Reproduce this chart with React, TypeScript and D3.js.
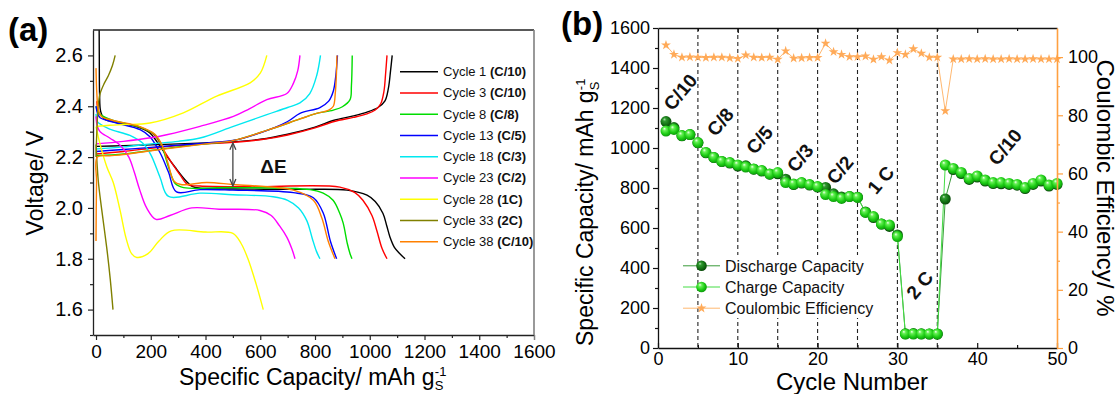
import React, { useEffect, useRef } from "react";
import * as d3 from "d3";

type Pt = [number, number];

// (a) voltage profiles, [specific capacity mAh/g, voltage V]
const cycle1Discharge: Pt[] = [[11, 2.8], [12, 2.6], [13, 2.45], [17, 2.38], [30, 2.35], [88, 2.335], [161, 2.315], [197, 2.295], [223, 2.26], [255, 2.21], [289, 2.16], [330, 2.105], [351, 2.085], [380, 2.078], [563, 2.074], [745, 2.073], [917, 2.07], [990, 2.05], [1020, 2.025], [1048, 1.979], [1062, 1.93], [1074, 1.885], [1090, 1.845], [1110, 1.82], [1129, 1.8]];
const cycle1Charge: Pt[] = [[0, 2.242], [100, 2.245], [200, 2.248], [300, 2.252], [400, 2.256], [500, 2.26], [600, 2.27], [700, 2.29], [800, 2.318], [870, 2.345], [940, 2.362], [990, 2.377], [1030, 2.395], [1055, 2.42], [1068, 2.47], [1076, 2.54], [1082, 2.6]];
const cycle3Discharge: Pt[] = [[3, 2.42], [8, 2.38], [15, 2.367], [51, 2.345], [161, 2.318], [215, 2.285], [245, 2.23], [275, 2.18], [307, 2.13], [335, 2.092], [380, 2.086], [563, 2.083], [891, 2.082], [946, 2.06], [975, 2.03], [1008, 1.97], [1026, 1.91], [1045, 1.84], [1063, 1.8]];
const cycle3Charge: Pt[] = [[0, 2.212], [100, 2.222], [200, 2.235], [300, 2.245], [400, 2.252], [500, 2.258], [600, 2.268], [700, 2.287], [800, 2.315], [870, 2.34], [940, 2.356], [990, 2.37], [1020, 2.385], [1040, 2.41], [1052, 2.46], [1058, 2.53], [1063, 2.6]];
const cycle8Discharge: Pt[] = [[0, 2.4], [6, 2.38], [15, 2.368], [60, 2.345], [160, 2.318], [215, 2.288], [240, 2.245], [265, 2.16], [290, 2.095], [320, 2.08], [500, 2.08], [782, 2.072], [830, 2.058], [866, 2.03], [890, 1.98], [903, 1.94], [918, 1.86], [928, 1.82], [935, 1.8]];
const cycle8Charge: Pt[] = [[0, 2.205], [100, 2.212], [200, 2.226], [300, 2.24], [400, 2.252], [500, 2.265], [624, 2.305], [745, 2.35], [800, 2.37], [867, 2.385], [900, 2.398], [928, 2.426], [933, 2.48], [936, 2.6]];
const cycle13Discharge: Pt[] = [[0, 2.4], [6, 2.37], [15, 2.355], [75, 2.334], [161, 2.308], [197, 2.28], [234, 2.217], [265, 2.14], [294, 2.063], [380, 2.072], [500, 2.07], [721, 2.06], [794, 2.04], [830, 1.98], [856, 1.87], [879, 1.8]];
const cycle13Charge: Pt[] = [[0, 2.222], [100, 2.23], [200, 2.238], [300, 2.247], [400, 2.255], [500, 2.265], [600, 2.295], [700, 2.34], [745, 2.372], [818, 2.395], [850, 2.42], [867, 2.46], [876, 2.52], [882, 2.6]];
const cycle18Discharge: Pt[] = [[0, 2.37], [5, 2.34], [15, 2.33], [50, 2.31], [124, 2.285], [170, 2.255], [200, 2.21], [234, 2.12], [265, 2.045], [380, 2.058], [500, 2.052], [647, 2.044], [700, 2.03], [740, 2.0], [770, 1.95], [790, 1.88], [805, 1.83], [818, 1.8]];
const cycle18Charge: Pt[] = [[0, 2.232], [100, 2.24], [200, 2.252], [300, 2.262], [380, 2.275], [502, 2.321], [624, 2.367], [700, 2.395], [745, 2.413], [781, 2.45], [806, 2.52], [820, 2.6]];
const cycle23Discharge: Pt[] = [[0, 2.36], [5, 2.32], [15, 2.3], [50, 2.275], [90, 2.245], [120, 2.2], [140, 2.14], [160, 2.07], [185, 2.0], [219, 1.955], [270, 1.97], [350, 2.0], [450, 1.995], [599, 1.99], [640, 1.97], [670, 1.93], [697, 1.885], [715, 1.84], [727, 1.8]];
const cycle23Charge: Pt[] = [[0, 2.252], [100, 2.262], [200, 2.276], [258, 2.288], [380, 2.321], [502, 2.36], [560, 2.39], [624, 2.426], [697, 2.45], [721, 2.49], [737, 2.54], [745, 2.6]];
const cycle28Discharge: Pt[] = [[0, 2.32], [15, 2.25], [40, 2.16], [63, 2.1], [88, 1.99], [110, 1.88], [130, 1.82], [149, 1.805], [190, 1.82], [230, 1.87], [275, 1.91], [400, 1.905], [500, 1.9], [530, 1.86], [555, 1.8], [585, 1.7], [611, 1.6]];
const cycle28Charge: Pt[] = [[0, 2.32], [50, 2.325], [100, 2.328], [197, 2.334], [319, 2.374], [441, 2.44], [563, 2.492], [600, 2.53], [624, 2.6]];
const cycle33Discharge: Pt[] = [[0, 2.25], [8, 2.11], [20, 2.0], [39, 1.845], [52, 1.72], [62, 1.6]];
const cycle33Charge: Pt[] = [[0, 2.2], [3, 2.3], [8, 2.4], [15, 2.45], [30, 2.49], [45, 2.52], [60, 2.56], [70, 2.6]];
const cycle38Discharge: Pt[] = [[0, 2.55], [3, 2.45], [8, 2.39], [20, 2.36], [60, 2.345], [160, 2.32], [215, 2.29], [240, 2.25], [262, 2.18], [285, 2.105], [310, 2.092], [405, 2.1], [500, 2.092], [721, 2.07], [794, 2.03], [825, 1.96], [848, 1.87], [873, 1.8]];
const cycle38Charge: Pt[] = [[0, 1.87], [2, 2.1], [5, 2.2], [50, 2.205], [100, 2.21], [200, 2.225], [300, 2.238], [400, 2.252], [500, 2.265], [624, 2.305], [745, 2.35], [800, 2.37], [850, 2.385], [867, 2.4], [874, 2.45], [878, 2.52], [880, 2.6]];

const profileNames = ["Cycle 1 ", "Cycle 3 ", "Cycle 8 ", "Cycle 13 ", "Cycle 18 ", "Cycle 23 ", "Cycle 28 ", "Cycle 33 ", "Cycle 38 "];
const profileRates = ["(C/10)", "(C/10)", "(C/8)", "(C/5)", "(C/3)", "(C/2)", "(1C)", "(2C)", "(C/10)"];
const profileColors = ["#000000", "#ff0000", "#00dd00", "#0000ff", "#00e8f0", "#ff00ff", "#ffff00", "#808000", "#ff8000"];

// (b) rate capability
const cycleNumbers = [1, 2, 3, 4, 5, 6, 7, 8, 9, 10, 11, 12, 13, 14, 15, 16, 17, 18, 19, 20, 21, 22, 23, 24, 25, 26, 27, 28, 29, 30, 31, 32, 33, 34, 35, 36, 37, 38, 39, 40, 41, 42, 43, 44, 45, 46, 47, 48, 49, 50];
const chargeCapacity = [1085, 1093, 1062, 1067, 1027, 978, 953, 933, 927, 915, 905, 895, 887, 870, 877, 827, 820, 827, 817, 807, 767, 757, 748, 757, 753, 678, 657, 620, 615, 557, 70, 70, 70, 70, 70, 915, 898, 878, 848, 860, 840, 827, 827, 823, 818, 802, 823, 840, 815, 823];
const dischargeCapacity = [1132, 1102, 1061, 1067, 1026, 976, 952, 932, 925, 910, 911, 894, 885, 869, 871, 844, 817, 825, 815, 805, 803, 771, 755, 758, 754, 680, 652, 620, 608, 565, 71, 72, 71, 70, 70, 745, 892, 872, 843, 855, 835, 822, 821, 818, 814, 797, 818, 835, 810, 818];
const coulombicEfficiency = [104.1, 100.9, 99.9, 100, 99.9, 99.8, 99.9, 99.9, 99.7, 99.5, 100.7, 99.9, 99.8, 99.9, 99.2, 102.1, 99.6, 99.7, 99.8, 99.8, 104.7, 101.8, 100.9, 100.1, 100.1, 100.3, 99.2, 100.1, 98.9, 101.5, 100.9, 102.8, 101.3, 99.9, 99.9, 81.5, 99.3, 99.3, 99.4, 99.3, 99.4, 99.3, 99.3, 99.4, 99.3, 99.3, 99.4, 99.3, 99.3, 99.3];
const rateBreaks = [5, 10, 15, 20, 25, 30, 35];
const rateLabels = ["C/10", "C/8", "C/5", "C/3", "C/2", "1 C", "2 C", "C/10"];
const rateLabelCycle = [2.8, 7.8, 12.7, 17.8, 22.8, 27.9, 32.8, 43.5];
const rateLabelCapacity = [1280, 1130, 1040, 950, 890, 840, 315, 1005];
const legendB = ["Discharge Capacity", "Charge Capacity", "Coulombic Efficiency"];

export default function App() {
  const svgRef = useRef<SVGSVGElement>(null);

  useEffect(() => {
    const font = "'Liberation Sans', Arial, sans-serif";
    const svg = d3.select(svgRef.current);
    svg.selectAll("*").remove();
    svg.attr("width", 1120).attr("height", 394).style("font-family", font);
    svg.append("rect").attr("width", 1120).attr("height", 394).attr("fill", "#fff");
    const defs = svg.append("defs");

    const styleAxis = (g: any, color: string, size: number) => {
      g.attr("font-family", font).attr("font-size", size);
      g.selectAll("path").attr("stroke", color).attr("stroke-width", 1.3);
      g.selectAll("line").attr("stroke", color).attr("stroke-width", 1.2);
      g.selectAll("text").attr("fill", "#000");
    };

    // ---------- panel (a)
    const xA = d3.scaleLinear().domain([-11, 1600]).range([93, 534]);
    const yA = d3.scaleLinear().domain([1.5, 2.7]).range([335, 30]);

    defs.append("clipPath").attr("id", "clipA")
      .append("rect").attr("x", 93).attr("y", 30).attr("width", 441).attr("height", 305);

    const profiles = [
      [cycle1Discharge, cycle1Charge],
      [cycle3Discharge, cycle3Charge],
      [cycle8Discharge, cycle8Charge],
      [cycle13Discharge, cycle13Charge],
      [cycle18Discharge, cycle18Charge],
      [cycle23Discharge, cycle23Charge],
      [cycle28Discharge, cycle28Charge],
      [cycle33Discharge, cycle33Charge],
      [cycle38Discharge, cycle38Charge],
    ];
    const lineA = d3.line<Pt>()
      .x(d => xA(d[0]))
      .y(d => yA(d[1]))
      .curve(d3.curveCatmullRom.alpha(0.5));
    const gA = svg.append("g").attr("clip-path", "url(#clipA)");
    profiles.forEach((pair, i) => {
      pair.forEach(arr => {
        gA.append("path")
          .attr("d", lineA(arr))
          .attr("fill", "none")
          .attr("stroke", profileColors[i])
          .attr("stroke-width", 1.4);
      });
    });

    // axes (a)
    const axA = svg.append("g").attr("transform", "translate(0,335)")
      .call(d3.axisBottom(xA).tickValues(d3.range(0, 1601, 200)).tickFormat(d3.format("d")).tickSize(5).tickPadding(5).tickSizeOuter(0));
    styleAxis(axA, "#222", 19);
    const axAm = svg.append("g").attr("transform", "translate(0,335)")
      .call(d3.axisBottom(xA).tickValues(d3.range(100, 1600, 200)).tickSize(3).tickFormat(() => ""));
    axAm.select(".domain").remove();
    styleAxis(axAm, "#222", 19);
    const ayA = svg.append("g").attr("transform", "translate(93,0)")
      .call(d3.axisLeft(yA).tickValues([1.6, 1.8, 2.0, 2.2, 2.4, 2.6]).tickFormat(d3.format(".1f")).tickSize(5).tickPadding(5).tickSizeOuter(0));
    styleAxis(ayA, "#222", 20);
    const ayAm = svg.append("g").attr("transform", "translate(93,0)")
      .call(d3.axisLeft(yA).tickValues([1.5, 1.7, 1.9, 2.1, 2.3, 2.5]).tickSize(3).tickFormat(() => ""));
    ayAm.select(".domain").remove();
    styleAxis(ayAm, "#222", 20);
    svg.append("line").attr("x1", 93).attr("x2", 534).attr("y1", 30).attr("y2", 30).attr("stroke", "#222").attr("stroke-width", 1.3);
    svg.append("line").attr("x1", 534).attr("x2", 534).attr("y1", 30).attr("y2", 335).attr("stroke", "#808080").attr("stroke-width", 1.6);
    const rightTicks = svg.append("g").attr("transform", "translate(0,335)")
      .call(d3.axisBottom(xA).tickValues([1600]).tickSize(5).tickFormat(() => ""));
    rightTicks.select(".domain").remove();
    styleAxis(rightTicks, "#808080", 19);

    // delta E arrow
    const ax = xA(500), ay1 = yA(2.256), ay2 = yA(2.086);
    const arr = svg.append("g").attr("stroke", "#444").attr("stroke-width", 1.3).attr("fill", "none");
    arr.append("line").attr("x1", ax).attr("x2", ax).attr("y1", ay1 + 1).attr("y2", ay2 - 1);
    arr.append("polyline").attr("points", `${ax - 3},${ay1 + 7} ${ax},${ay1} ${ax + 3},${ay1 + 7}`);
    arr.append("polyline").attr("points", `${ax - 3},${ay2 - 7} ${ax},${ay2} ${ax + 3},${ay2 - 7}`);
    svg.append("text").attr("x", xA(600)).attr("y", yA(2.138))
      .attr("font-size", 19).attr("font-weight", "bold").attr("fill", "#111").text("ΔE");

    // legend (a)
    profileNames.forEach((name, i) => {
      const y = 71.7 + i * 21.25;
      svg.append("line").attr("x1", 400).attr("x2", 438).attr("y1", y).attr("y2", y)
        .attr("stroke", profileColors[i]).attr("stroke-width", 1.6);
      const t = svg.append("text").attr("x", 443).attr("y", y + 4.5).attr("font-size", 13).attr("fill", "#111");
      t.append("tspan").text(name);
      t.append("tspan").attr("font-weight", "bold").text(profileRates[i]);
    });

    // titles (a)
    svg.append("text").attr("x", 8).attr("y", 41).attr("font-size", 33).attr("font-weight", "bold").text("(a)");
    svg.append("text").attr("transform", "translate(43,183) rotate(-90)")
      .attr("text-anchor", "middle").attr("font-size", 23).text("Voltage/ V");
    const xTitleA = svg.append("text").attr("x", 179).attr("y", 385).attr("font-size", 23);
    xTitleA.append("tspan").text("Specific Capacity/ mAh g");
    xTitleA.append("tspan").attr("font-size", 13).attr("dy", 5).text("S");
    xTitleA.append("tspan").attr("font-size", 13).attr("dx", -8.5).attr("dy", -14).text("-1");

    // ---------- panel (b)
    const xB = d3.scaleLinear().domain([0, 50]).range([658, 1057]);
    const yB = d3.scaleLinear().domain([0, 1600]).range([348, 28]);
    const yE = d3.scaleLinear().domain([0, 110]).range([348, 28]);

    rateBreaks.forEach(c => {
      svg.append("line").attr("x1", xB(c)).attr("x2", xB(c)).attr("y1", 28).attr("y2", 348)
        .attr("stroke", "#222").attr("stroke-width", 1.1).attr("stroke-dasharray", "4,3");
    });

    // gradients for the spheres
    const mkGrad = (id: string, stops: [number, string][]) => {
      const g = defs.append("radialGradient").attr("id", id)
        .attr("cx", "45%").attr("cy", "45%").attr("r", "60%").attr("fx", "35%").attr("fy", "28%");
      stops.forEach(([o, c]) => g.append("stop").attr("offset", o).attr("stop-color", c));
    };
    mkGrad("gCharge", [[0, "#f2fff0"], [0.25, "#66f055"], [0.65, "#1ccc14"], [1, "#0a8f0a"]]);
    mkGrad("gDischarge", [[0, "#b8e0b8"], [0.25, "#2f9a2f"], [0.65, "#137013"], [1, "#063f06"]]);

    // legend (b) background hides the dashed guides behind its text
    svg.append("rect").attr("x", 722).attr("y", 255).attr("width", 154).attr("height", 63).attr("fill", "#fff");

    const ceLine = d3.line<number>().x((d, i) => xB(cycleNumbers[i])).y(d => yE(d));
    const capLine = d3.line<number>().x((d, i) => xB(cycleNumbers[i])).y(d => yB(d));

    svg.append("path").attr("d", ceLine(coulombicEfficiency)).attr("fill", "none").attr("stroke", "#ffb870").attr("stroke-width", 1);
    svg.append("path").attr("d", capLine(dischargeCapacity)).attr("fill", "none").attr("stroke", "#3a9a3a").attr("stroke-width", 1);
    svg.append("path").attr("d", capLine(chargeCapacity)).attr("fill", "none").attr("stroke", "#44dd44").attr("stroke-width", 1);

    const star = d3.symbol().type(d3.symbolStar).size(30);
    svg.append("g").selectAll("path").data(coulombicEfficiency).enter().append("path")
      .attr("d", star() as string)
      .attr("transform", (d, i) => `translate(${xB(cycleNumbers[i])},${yE(d)})`)
      .attr("fill", "#ffaa58");

    svg.append("g").selectAll("circle").data(dischargeCapacity).enter().append("circle")
      .attr("cx", (d, i) => xB(cycleNumbers[i])).attr("cy", d => yB(d)).attr("r", 5.5)
      .attr("fill", "url(#gDischarge)");
    svg.append("g").selectAll("circle").data(chargeCapacity).enter().append("circle")
      .attr("cx", (d, i) => xB(cycleNumbers[i])).attr("cy", d => yB(d)).attr("r", 5.5)
      .attr("fill", "url(#gCharge)");

    // rate labels
    rateLabels.forEach((lab, i) => {
      svg.append("text")
        .attr("transform", `translate(${xB(rateLabelCycle[i])},${yB(rateLabelCapacity[i])}) rotate(-50)`)
        .attr("text-anchor", "middle").attr("dy", "0.35em")
        .attr("font-size", 19).attr("font-weight", "bold").attr("fill", "#111").text(lab);
    });

    // axes (b)
    const axB = svg.append("g").attr("transform", "translate(0,348)")
      .call(d3.axisBottom(xB).tickValues([0, 10, 20, 30, 40, 50]).tickSize(-5).tickPadding(4).tickSizeOuter(0));
    styleAxis(axB, "#111", 18);
    const axBm = svg.append("g").attr("transform", "translate(0,348)")
      .call(d3.axisBottom(xB).tickValues([5, 15, 25, 35, 45]).tickSize(-3).tickFormat(() => ""));
    axBm.select(".domain").remove();
    styleAxis(axBm, "#111", 18);
    const atB = svg.append("g").attr("transform", "translate(0,28)")
      .call(d3.axisTop(xB).tickValues([10, 20, 30, 40]).tickSize(-5).tickFormat(() => "").tickSizeOuter(0));
    styleAxis(atB, "#111", 18);
    const atBm = svg.append("g").attr("transform", "translate(0,28)")
      .call(d3.axisTop(xB).tickValues([5, 15, 25, 35, 45]).tickSize(-3).tickFormat(() => ""));
    atBm.select(".domain").remove();
    styleAxis(atBm, "#111", 18);

    const ayB = svg.append("g").attr("transform", "translate(658,0)")
      .call(d3.axisLeft(yB).tickValues(d3.range(0, 1601, 200)).tickFormat(d3.format("d")).tickSize(5).tickPadding(3).tickSizeOuter(0));
    styleAxis(ayB, "#111", 18);
    const ayBm = svg.append("g").attr("transform", "translate(658,0)")
      .call(d3.axisLeft(yB).tickValues(d3.range(100, 1600, 200)).tickSize(3).tickFormat(() => ""));
    ayBm.select(".domain").remove();
    styleAxis(ayBm, "#111", 18);

    const orange = "#ffa040";
    const ayE = svg.append("g").attr("transform", "translate(1057,0)")
      .call(d3.axisRight(yE).tickValues([0, 20, 40, 60, 80, 100]).tickSize(6).tickPadding(5).tickSizeOuter(0));
    styleAxis(ayE, orange, 18);
    ayE.select(".domain").attr("stroke-width", 1.6);
    const ayEm = svg.append("g").attr("transform", "translate(1057,0)")
      .call(d3.axisRight(yE).tickValues([10, 30, 50, 70, 90]).tickSize(3).tickFormat(() => ""));
    ayEm.select(".domain").remove();
    styleAxis(ayEm, orange, 18);

    // legend (b)
    const legColors = ["#3a9a3a", "#44dd44", "#ffb870"];
    legendB.forEach((name, i) => {
      const y = 265.8 + i * 21.2;
      svg.append("line").attr("x1", 683).attr("x2", 720).attr("y1", y).attr("y2", y)
        .attr("stroke", legColors[i]).attr("stroke-width", 1);
      if (i < 2) {
        svg.append("circle").attr("cx", 701.5).attr("cy", y).attr("r", 5.3)
          .attr("fill", i === 0 ? "url(#gDischarge)" : "url(#gCharge)");
      } else {
        svg.append("path").attr("d", star() as string).attr("transform", `translate(701.5,${y})`).attr("fill", "#ffaa58");
      }
      svg.append("text").attr("x", 725).attr("y", y).attr("dy", "0.36em")
        .attr("font-size", 16).attr("fill", "#111").text(name);
    });

    // titles (b)
    svg.append("text").attr("x", 561).attr("y", 35).attr("font-size", 33).attr("font-weight", "bold").text("(b)");
    const yTitleB = svg.append("text").attr("transform", "translate(593,346) rotate(-90)").attr("font-size", 23);
    yTitleB.append("tspan").text("Specific Capacity/ mAh g");
    yTitleB.append("tspan").attr("font-size", 13).attr("dy", 6).text("S");
    yTitleB.append("tspan").attr("font-size", 13).attr("dx", -8.5).attr("dy", -14).text("-1");
    svg.append("text").attr("x", 852).attr("y", 390).attr("text-anchor", "middle")
      .attr("font-size", 24).text("Cycle Number");
    svg.append("text").attr("transform", "translate(1097,188) rotate(90)").attr("text-anchor", "middle")
      .attr("font-size", 24).text("Coulombic Efficiency/ %");
  }, []);

  return (
    <div style={{ position: "absolute", left: 0, top: 0 }}>
      <svg ref={svgRef} style={{ display: "block" }}></svg>
    </div>
  );
}
